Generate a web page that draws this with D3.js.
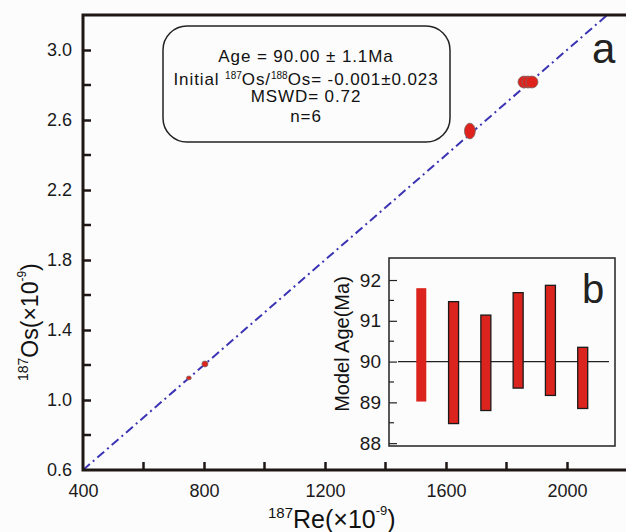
<!DOCTYPE html>
<html>
<head>
<meta charset="utf-8">
<script src="https://cdn.jsdelivr.net/npm/d3@7"></script>
<style>
body { margin:0; background:#fcfcfc; }
svg { font-family:"Liberation Sans", Arial, sans-serif; }
</style>
</head>
<body>
<div id="chart"></div>
<script>
// isochron samples (Re, Os in x10^-9) and 2-sigma errors
var reVals = [750, 803, 1679, 1858, 1871, 1884];
var osVals = [1.126, 1.206, 2.537, 2.817, 2.817, 2.817];
var reErr = [8, 10, 18, 20, 20, 20];
var osErr = [0.011, 0.017, 0.045, 0.034, 0.034, 0.034];

// fitted isochron end points
var isoRe = [400, 2133];
var isoOs = [0.6, 3.2];

var xTicks = [400, 800, 1200, 1600, 2000];
var xMinor = [600, 1000, 1400, 1800, 2200];
var yTicks = [0.6, 1.0, 1.4, 1.8, 2.2, 2.6, 3.0];
var yMinor = [0.8, 1.2, 1.6, 2.0, 2.4, 2.8];

// inset: model ages (top / bottom of bar)
var sampleIdx = [1, 2, 3, 4, 5, 6];
var ageTop = [91.80, 91.47, 91.14, 91.69, 91.87, 90.35];
var ageBot = [89.02, 88.48, 88.80, 89.35, 89.17, 88.85];
var meanAge = 90.0;
var bTicks = [88, 89, 90, 91, 92];
var bMinor = [88.5, 89.5, 90.5, 91.5];

var W = 626, H = 532;
var axisCol = "#1e1714";

var svg = d3.select("#chart").append("svg")
    .attr("width", W).attr("height", H);

svg.append("rect").attr("width", W).attr("height", H).attr("fill", "#fcfcfc");

var x = d3.scaleLinear().domain([400, 2200]).range([83, 627.5]);
var y = d3.scaleLinear().domain([0.6, 3.2]).range([470, 15]);

svg.append("defs").append("clipPath").attr("id", "plotclip")
    .append("rect").attr("x", 83).attr("y", 15).attr("width", 545).attr("height", 455);

// isochron line
svg.append("line")
    .attr("clip-path", "url(#plotclip)")
    .attr("x1", x(isoRe[0])).attr("y1", y(isoOs[0]))
    .attr("x2", x(isoRe[1])).attr("y2", y(isoOs[1]))
    .attr("stroke", "#3a33b4")
    .attr("stroke-width", 2)
    .attr("stroke-dasharray", "9,4,2,4");

// error ellipses
var pts = reVals.map(function(d, i) {
    return {re: d, os: osVals[i], ex: reErr[i], ey: osErr[i]};
});
svg.selectAll(".ell").data(pts).enter().append("ellipse")
    .attr("class", "ell")
    .attr("cx", function(d) { return x(d.re); })
    .attr("cy", function(d) { return y(d.os); })
    .attr("rx", function(d) { return x(d.re + d.ex) - x(d.re); })
    .attr("ry", function(d) { return y(d.os) - y(d.os + d.ey); })
    .attr("fill", "#e0221c")
    .attr("stroke", "#7a6a66")
    .attr("stroke-width", 0.8);

// axes
var xAxis = d3.axisBottom(x).tickValues(xTicks).tickSize(-8).tickPadding(14).tickFormat(d3.format("d"));
var yAxis = d3.axisLeft(y).tickValues(yTicks).tickSize(-8).tickPadding(11).tickFormat(d3.format(".1f"));

var gx = svg.append("g").attr("transform", "translate(0,470)").call(xAxis);
var gy = svg.append("g").attr("transform", "translate(83,0)").call(yAxis);

gx.selectAll(".tick").filter(function(d) { return d === 400; }).select("line").remove();
gy.selectAll(".tick").filter(function(d) { return d === 0.6; }).select("line").remove();

[gx, gy].forEach(function(g) {
    g.select(".domain").remove();
    g.selectAll(".tick line").attr("stroke", axisCol).attr("stroke-width", 2.5);
    g.selectAll(".tick text").attr("fill", "#1a1a1a").style("font-size", "18px");
});

svg.selectAll(".xminor").data(xMinor).enter().append("line")
    .attr("x1", function(d) { return x(d); }).attr("x2", function(d) { return x(d); })
    .attr("y1", 470).attr("y2", 462)
    .attr("stroke", axisCol).attr("stroke-width", 2.5);
svg.selectAll(".yminor").data(yMinor).enter().append("line")
    .attr("x1", 83).attr("x2", 91)
    .attr("y1", function(d) { return y(d); }).attr("y2", function(d) { return y(d); })
    .attr("stroke", axisCol).attr("stroke-width", 2.5);

// frame: left, bottom, top
svg.append("path")
    .attr("d", "M" + W + "," + y(3.2) + "H83V470H" + W)
    .attr("fill", "none").attr("stroke", axisCol).attr("stroke-width", 3);

// axis titles
var xt = svg.append("text").attr("x", 268).attr("y", 528).attr("fill", "#111");
xt.append("tspan").style("font-size", "15px").attr("dy", -10).text("187");
xt.append("tspan").style("font-size", "25px").attr("dy", 10).text("Re(×10");
xt.append("tspan").style("font-size", "13px").attr("dy", -13).text("-9");
xt.append("tspan").style("font-size", "25px").attr("dy", 13).text(")");

var yt = svg.append("text").attr("transform", "translate(38,381) rotate(-90)").attr("fill", "#111");
yt.append("tspan").style("font-size", "14px").attr("dy", -10).text("187");
yt.append("tspan").style("font-size", "23px").attr("dy", 10).text("Os(×10");
yt.append("tspan").style("font-size", "12px").attr("dy", -12).text("-9");
yt.append("tspan").style("font-size", "23px").attr("dy", 12).text(")");

// result box
svg.append("rect")
    .attr("x", 163).attr("y", 26).attr("width", 287).attr("height", 116)
    .attr("rx", 24).attr("ry", 24)
    .attr("fill", "none").attr("stroke", "#222").attr("stroke-width", 1.5);

var box = svg.append("g").attr("text-anchor", "middle").attr("fill", "#111")
    .style("font-size", "17px").style("letter-spacing", "0.9px");
box.append("text").attr("x", 306).attr("y", 62).text("Age = 90.00 ± 1.1Ma");
var l2 = box.append("text").attr("x", 306).attr("y", 85);
l2.append("tspan").text("Initial ");
l2.append("tspan").style("font-size", "10px").style("letter-spacing", "0px").attr("dy", -6).text("187");
l2.append("tspan").attr("dy", 6).text("Os/");
l2.append("tspan").style("font-size", "10px").style("letter-spacing", "0px").attr("dy", -6).text("188");
l2.append("tspan").attr("dy", 6).text("Os= -0.001±0.023");
box.append("text").attr("x", 306).attr("y", 102).text("MSWD= 0.72");
box.append("text").attr("x", 306).attr("y", 122).text("n=6");

svg.append("text").attr("x", 592).attr("y", 63).style("font-size", "42px").attr("fill", "#222").text("a");

// inset b
var bx = d3.scaleLinear().domain([0, 7]).range([389, 615]);
var by = d3.scaleLinear().domain([87.93, 92.54]).range([446, 258]);

var inset = svg.append("g");
inset.append("rect")
    .attr("x", 389).attr("y", 258).attr("width", 226).attr("height", 188)
    .attr("fill", "#fcfcfc").attr("stroke", "#222").attr("stroke-width", 1.5);

var bAxis = d3.axisLeft(by).tickValues(bTicks).tickSize(-8).tickPadding(8).tickFormat(d3.format("d"));
var gb = inset.append("g").attr("transform", "translate(389,0)").call(bAxis);
gb.select(".domain").remove();
gb.selectAll(".tick line").attr("stroke", "#222").attr("stroke-width", 1.2);
gb.selectAll(".tick text").attr("fill", "#1a1a1a").style("font-size", "19px");
inset.selectAll(".bminor").data(bMinor).enter().append("line")
    .attr("x1", 389).attr("x2", 394)
    .attr("y1", function(d) { return by(d); }).attr("y2", function(d) { return by(d); })
    .attr("stroke", "#222").attr("stroke-width", 1.2);

inset.append("line")
    .attr("x1", 398).attr("x2", 609)
    .attr("y1", by(meanAge)).attr("y2", by(meanAge))
    .attr("stroke", "#222").attr("stroke-width", 1.2);

inset.selectAll(".bar").data(sampleIdx).enter().append("rect")
    .attr("class", "bar")
    .attr("x", function(d) { return bx(d) - 5; })
    .attr("width", 10)
    .attr("y", function(d, i) { return by(ageTop[i]); })
    .attr("height", function(d, i) { return by(ageBot[i]) - by(ageTop[i]); })
    .attr("fill", "#dc241f")
    .attr("stroke", function(d, i) { return i === 0 ? "none" : "#1a1a1a"; })
    .attr("stroke-width", 1.3);

inset.append("text")
    .attr("transform", "translate(349,344) rotate(-90)")
    .attr("text-anchor", "middle").attr("fill", "#111").style("font-size", "20px")
    .text("Model Age(Ma)");

inset.append("text").attr("x", 582).attr("y", 303).style("font-size", "40px").attr("fill", "#222").text("b");
</script>
</body>
</html>
